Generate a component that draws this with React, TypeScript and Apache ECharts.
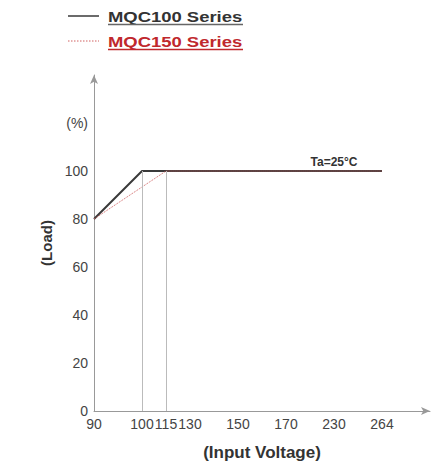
import React, { useEffect, useRef } from "react";
import * as echarts from "echarts";

// x axis: half-step category slots; names starting with "_" are unlabelled slots
const xCategories = ["90", "_a", "100", "115", "130", "_b", "150", "_c", "170", "_d", "230", "_e", "264", "_f", "_g"];
const yMax = 140;
const yInterval = 20;
const yUnitTick = 120; // the tick that carries "(%)"

const seriesNames = ["MQC100 Series", "MQC150 Series"];
const seriesColors = ["#3a3a3a", "#d06060"];
const legendTextColors = ["#333", "#c0282d"];
const mqc100Volts = ["90", "100", "264"];
const mqc100Load = [80, 100, 100];
const mqc150Volts = ["90", "115", "264"];
const mqc150Load = [80, 100, 100];
const dropVolts = ["100", "115"];
const dropLoad = 100;
const noteVolt = "230";
const noteText = "Ta=25°C";

const FONT = "Liberation Sans, Arial, sans-serif";

export default function App() {
  const ref = useRef<HTMLDivElement>(null);
  useEffect(() => {
    if (!ref.current) return;
    const chart = echarts.init(ref.current, null, { renderer: "svg" });
    const legendRows = seriesNames.map((name, i) => {
      const y = 17 + i * 25;
      return {
        type: "group",
        children: [
          {
            type: "line",
            shape: { x1: 68, y1: y - 1, x2: 99, y2: y - 1 },
            style: {
              stroke: seriesColors[i],
              lineWidth: i === 0 ? 1.5 : 1,
              lineDash: i === 0 ? null : [1.5, 1.5],
            },
          },
          {
            type: "text",
            x: 108,
            y,
            scaleX: 1.23,
            style: {
              text: name,
              fill: legendTextColors[i],
              font: `bold 15px ${FONT}`,
              verticalAlign: "middle",
              align: "left",
            },
          },
          {
            type: "line",
            shape: { x1: 108, y1: y + 7.5, x2: 243, y2: y + 7.5 },
            style: { stroke: i === 0 ? "#666" : "#c0282d", lineWidth: 1.3 },
          },
        ],
      };
    });
    chart.setOption({
      animation: false,
      textStyle: { fontFamily: FONT },
      graphic: legendRows,
      grid: { left: 94, right: 16, top: 75, bottom: 61 },
      xAxis: {
        type: "category",
        data: xCategories,
        boundaryGap: false,
        name: "(Input Voltage)",
        nameLocation: "middle",
        nameGap: 33,
        nameTextStyle: { fontSize: 17, fontWeight: "bold", color: "#333", fontFamily: FONT },
        axisLine: { show: true, lineStyle: { color: "#999", width: 1 }, symbol: ["none", "arrow"], symbolSize: [6, 9] },
        axisTick: { show: false },
        splitLine: { show: false },
        axisLabel: {
          interval: 0,
          color: "#444",
          fontSize: 14,
          margin: 6,
          formatter: (v: string) => (v.startsWith("_") ? "" : v),
        },
      },
      yAxis: {
        type: "value",
        min: 0,
        max: yMax,
        interval: yInterval,
        name: "(Load)",
        nameLocation: "middle",
        nameGap: 39,
        nameTextStyle: { fontSize: 15, fontWeight: "bold", color: "#333", fontFamily: FONT },
        axisLine: { show: true, lineStyle: { color: "#999", width: 1 }, symbol: ["none", "arrow"], symbolSize: [6, 9] },
        axisTick: { show: false },
        splitLine: { show: false },
        axisLabel: {
          color: "#444",
          fontSize: 14,
          margin: 6,
          formatter: (v: number) => (v === yUnitTick ? "(%)" : v > 100 ? "" : String(v)),
        },
      },
      series: [
        {
          name: seriesNames[0],
          type: "line",
          symbol: "none",
          data: mqc100Volts.map((v, i) => [v, mqc100Load[i]]),
          lineStyle: { color: seriesColors[0], width: 2 },
          itemStyle: { color: seriesColors[0] },
          z: 3,
          markLine: {
            silent: true,
            symbol: "none",
            label: { show: false },
            lineStyle: { color: "#bbb", width: 1, type: "solid" },
            data: dropVolts.map((v) => [{ coord: [v, 0] }, { coord: [v, dropLoad] }]),
          },
          markPoint: {
            symbol: "circle",
            symbolSize: 0,
            data: [{ coord: [noteVolt, 100] }],
            label: {
              show: true,
              position: "top",
              distance: 3,
              formatter: noteText,
              fontSize: 12,
              fontWeight: "bold",
              color: "#333",
              fontFamily: FONT,
            },
          },
        },
        {
          name: seriesNames[1],
          type: "line",
          symbol: "none",
          data: mqc150Volts.map((v, i) => [v, mqc150Load[i]]),
          lineStyle: { color: seriesColors[1], width: 1, type: "dotted" },
          itemStyle: { color: seriesColors[1] },
          z: 4,
        },
      ],
    });
    return () => chart.dispose();
  }, []);
  return <div ref={ref} style={{ width: 446, height: 472, position: "absolute", left: 0, top: 0 }} />;
}
